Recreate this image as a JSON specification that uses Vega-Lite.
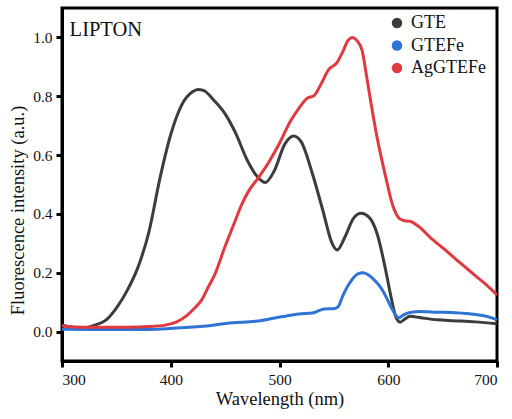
{
  "$schema": "https://vega.github.io/schema/vega-lite/v6.json",
  "autosize": "none",
  "width": 435,
  "height": 353,
  "padding": {"left": 62, "top": 8, "right": 15, "bottom": 58},
  "background": "white",
  "config": {
    "font": "Liberation Serif",
    "view": {"stroke": "black", "strokeWidth": 3},
    "axis": {
      "domainColor": "black", "domainWidth": 3, "tickColor": "black", "tickWidth": 3, "tickSize": 6,
      "labelFont": "Liberation Serif", "labelFontSize": 15.5, "labelColor": "#111",
      "titleFont": "Liberation Serif", "titleFontSize": 18.5, "titleFontWeight": "normal", "titleColor": "#111",
      "grid": false
    }
  },
  "datasets": {
    "spectra": [
      {"s": "GTE", "x": 300, "y": 0.022}, {"s": "GTE", "x": 310, "y": 0.015}, {"s": "GTE", "x": 320, "y": 0.013},
      {"s": "GTE", "x": 330, "y": 0.022}, {"s": "GTE", "x": 340, "y": 0.038}, {"s": "GTE", "x": 350, "y": 0.08},
      {"s": "GTE", "x": 360, "y": 0.14}, {"s": "GTE", "x": 370, "y": 0.22}, {"s": "GTE", "x": 380, "y": 0.34},
      {"s": "GTE", "x": 390, "y": 0.52}, {"s": "GTE", "x": 400, "y": 0.67}, {"s": "GTE", "x": 410, "y": 0.77},
      {"s": "GTE", "x": 420, "y": 0.815}, {"s": "GTE", "x": 425, "y": 0.823}, {"s": "GTE", "x": 430, "y": 0.82},
      {"s": "GTE", "x": 440, "y": 0.785}, {"s": "GTE", "x": 450, "y": 0.74}, {"s": "GTE", "x": 460, "y": 0.672},
      {"s": "GTE", "x": 470, "y": 0.585}, {"s": "GTE", "x": 480, "y": 0.525}, {"s": "GTE", "x": 487, "y": 0.507},
      {"s": "GTE", "x": 495, "y": 0.545}, {"s": "GTE", "x": 505, "y": 0.638}, {"s": "GTE", "x": 513, "y": 0.665},
      {"s": "GTE", "x": 520, "y": 0.645}, {"s": "GTE", "x": 530, "y": 0.54}, {"s": "GTE", "x": 540, "y": 0.41},
      {"s": "GTE", "x": 548, "y": 0.303}, {"s": "GTE", "x": 553, "y": 0.277}, {"s": "GTE", "x": 560, "y": 0.32},
      {"s": "GTE", "x": 568, "y": 0.385}, {"s": "GTE", "x": 575, "y": 0.402}, {"s": "GTE", "x": 582, "y": 0.39},
      {"s": "GTE", "x": 590, "y": 0.33}, {"s": "GTE", "x": 597, "y": 0.22}, {"s": "GTE", "x": 603, "y": 0.11},
      {"s": "GTE", "x": 607, "y": 0.05}, {"s": "GTE", "x": 611, "y": 0.032}, {"s": "GTE", "x": 615, "y": 0.042},
      {"s": "GTE", "x": 620, "y": 0.052}, {"s": "GTE", "x": 630, "y": 0.047}, {"s": "GTE", "x": 645, "y": 0.04},
      {"s": "GTE", "x": 660, "y": 0.037}, {"s": "GTE", "x": 680, "y": 0.033}, {"s": "GTE", "x": 700, "y": 0.027},

      {"s": "GTEFe", "x": 300, "y": 0.008}, {"s": "GTEFe", "x": 330, "y": 0.007}, {"s": "GTEFe", "x": 365, "y": 0.007},
      {"s": "GTEFe", "x": 396, "y": 0.01}, {"s": "GTEFe", "x": 427, "y": 0.017}, {"s": "GTEFe", "x": 457, "y": 0.03},
      {"s": "GTEFe", "x": 478, "y": 0.035}, {"s": "GTEFe", "x": 490, "y": 0.042}, {"s": "GTEFe", "x": 503, "y": 0.051},
      {"s": "GTEFe", "x": 518, "y": 0.06}, {"s": "GTEFe", "x": 530, "y": 0.063}, {"s": "GTEFe", "x": 541, "y": 0.077},
      {"s": "GTEFe", "x": 550, "y": 0.078}, {"s": "GTEFe", "x": 554, "y": 0.085}, {"s": "GTEFe", "x": 558, "y": 0.12},
      {"s": "GTEFe", "x": 562, "y": 0.15}, {"s": "GTEFe", "x": 567, "y": 0.178}, {"s": "GTEFe", "x": 572, "y": 0.196},
      {"s": "GTEFe", "x": 577, "y": 0.2}, {"s": "GTEFe", "x": 582, "y": 0.192}, {"s": "GTEFe", "x": 588, "y": 0.172},
      {"s": "GTEFe", "x": 594, "y": 0.145}, {"s": "GTEFe", "x": 598, "y": 0.118}, {"s": "GTEFe", "x": 603, "y": 0.08},
      {"s": "GTEFe", "x": 607, "y": 0.055}, {"s": "GTEFe", "x": 610, "y": 0.047}, {"s": "GTEFe", "x": 614, "y": 0.057},
      {"s": "GTEFe", "x": 620, "y": 0.065}, {"s": "GTEFe", "x": 630, "y": 0.068}, {"s": "GTEFe", "x": 645, "y": 0.066},
      {"s": "GTEFe", "x": 662, "y": 0.064}, {"s": "GTEFe", "x": 680, "y": 0.058}, {"s": "GTEFe", "x": 690, "y": 0.052},
      {"s": "GTEFe", "x": 700, "y": 0.04},

      {"s": "AgGTEFe", "x": 300, "y": 0.02}, {"s": "AgGTEFe", "x": 310, "y": 0.016}, {"s": "AgGTEFe", "x": 330, "y": 0.015},
      {"s": "AgGTEFe", "x": 360, "y": 0.015}, {"s": "AgGTEFe", "x": 380, "y": 0.017}, {"s": "AgGTEFe", "x": 395, "y": 0.022},
      {"s": "AgGTEFe", "x": 405, "y": 0.032}, {"s": "AgGTEFe", "x": 415, "y": 0.055}, {"s": "AgGTEFe", "x": 422, "y": 0.08},
      {"s": "AgGTEFe", "x": 428, "y": 0.105}, {"s": "AgGTEFe", "x": 435, "y": 0.155}, {"s": "AgGTEFe", "x": 440, "y": 0.19},
      {"s": "AgGTEFe", "x": 450, "y": 0.29}, {"s": "AgGTEFe", "x": 458, "y": 0.365}, {"s": "AgGTEFe", "x": 465, "y": 0.43},
      {"s": "AgGTEFe", "x": 472, "y": 0.48}, {"s": "AgGTEFe", "x": 480, "y": 0.52}, {"s": "AgGTEFe", "x": 490, "y": 0.575},
      {"s": "AgGTEFe", "x": 500, "y": 0.64}, {"s": "AgGTEFe", "x": 510, "y": 0.715}, {"s": "AgGTEFe", "x": 518, "y": 0.76},
      {"s": "AgGTEFe", "x": 525, "y": 0.792}, {"s": "AgGTEFe", "x": 532, "y": 0.803}, {"s": "AgGTEFe", "x": 538, "y": 0.84},
      {"s": "AgGTEFe", "x": 545, "y": 0.89}, {"s": "AgGTEFe", "x": 553, "y": 0.915}, {"s": "AgGTEFe", "x": 558, "y": 0.95},
      {"s": "AgGTEFe", "x": 563, "y": 0.99}, {"s": "AgGTEFe", "x": 567, "y": 1.0}, {"s": "AgGTEFe", "x": 571, "y": 0.99},
      {"s": "AgGTEFe", "x": 576, "y": 0.955}, {"s": "AgGTEFe", "x": 580, "y": 0.87}, {"s": "AgGTEFe", "x": 584, "y": 0.78},
      {"s": "AgGTEFe", "x": 590, "y": 0.655}, {"s": "AgGTEFe", "x": 598, "y": 0.52}, {"s": "AgGTEFe", "x": 604, "y": 0.43},
      {"s": "AgGTEFe", "x": 610, "y": 0.385}, {"s": "AgGTEFe", "x": 615, "y": 0.377}, {"s": "AgGTEFe", "x": 620, "y": 0.375},
      {"s": "AgGTEFe", "x": 628, "y": 0.357}, {"s": "AgGTEFe", "x": 640, "y": 0.315}, {"s": "AgGTEFe", "x": 650, "y": 0.285},
      {"s": "AgGTEFe", "x": 665, "y": 0.237}, {"s": "AgGTEFe", "x": 680, "y": 0.19}, {"s": "AgGTEFe", "x": 690, "y": 0.16},
      {"s": "AgGTEFe", "x": 700, "y": 0.125}
    ],
    "label": [{"x": 307, "y": 1.005, "t": "LIPTON"}]
  },
  "layer": [
    {
      "data": {"name": "spectra"},
      "mark": {"type": "line", "strokeWidth": 3, "interpolate": "monotone", "clip": true},
      "encoding": {
        "x": {
          "field": "x", "type": "quantitative",
          "scale": {"domain": [300, 700], "nice": false, "zero": false},
          "axis": {"values": [300, 400, 500, 600, 700], "title": "Wavelength (nm)", "labelPadding": 5, "titlePadding": 2,
                   "labelFont": "Liberation Serif", "titleFont": "Liberation Serif"}
        },
        "y": {
          "field": "y", "type": "quantitative",
          "scale": {"domain": [-0.1, 1.1], "nice": false, "zero": false},
          "axis": {"values": [0, 0.2, 0.4, 0.6, 0.8, 1.0], "format": ".1f", "title": "Fluorescence intensity (a.u.)", "labelPadding": 4, "titlePadding": 5,
                   "titleY": 202, "labelFont": "Liberation Serif", "titleFont": "Liberation Serif"}
        },
        "color": {
          "field": "s", "type": "nominal",
          "scale": {"domain": ["GTE", "GTEFe", "AgGTEFe"], "range": ["#3c3c3c", "#2f74d4", "#e0393f"]},
          "legend": {
            "title": null, "orient": "none", "legendX": 326, "legendY": 6,
            "symbolType": "circle", "symbolSize": 110, "symbolStrokeWidth": 0,
            "labelFont": "Liberation Serif", "labelFontSize": 18, "labelColor": "#111", "labelOffset": 5,
            "rowPadding": 4.5, "padding": 0,
            "encode": {"symbols": {"update": {"fill": {"scale": "color", "field": "value"}, "fillOpacity": {"value": 1}}}}
          }
        }
      }
    },
    {
      "data": {"name": "label"},
      "mark": {"type": "text", "align": "left", "baseline": "alphabetic", "fontSize": 20.5, "font": "Liberation Serif", "color": "#111"},
      "encoding": {
        "x": {"field": "x", "type": "quantitative"},
        "y": {"field": "y", "type": "quantitative"},
        "text": {"field": "t"}
      }
    }
  ]
}
